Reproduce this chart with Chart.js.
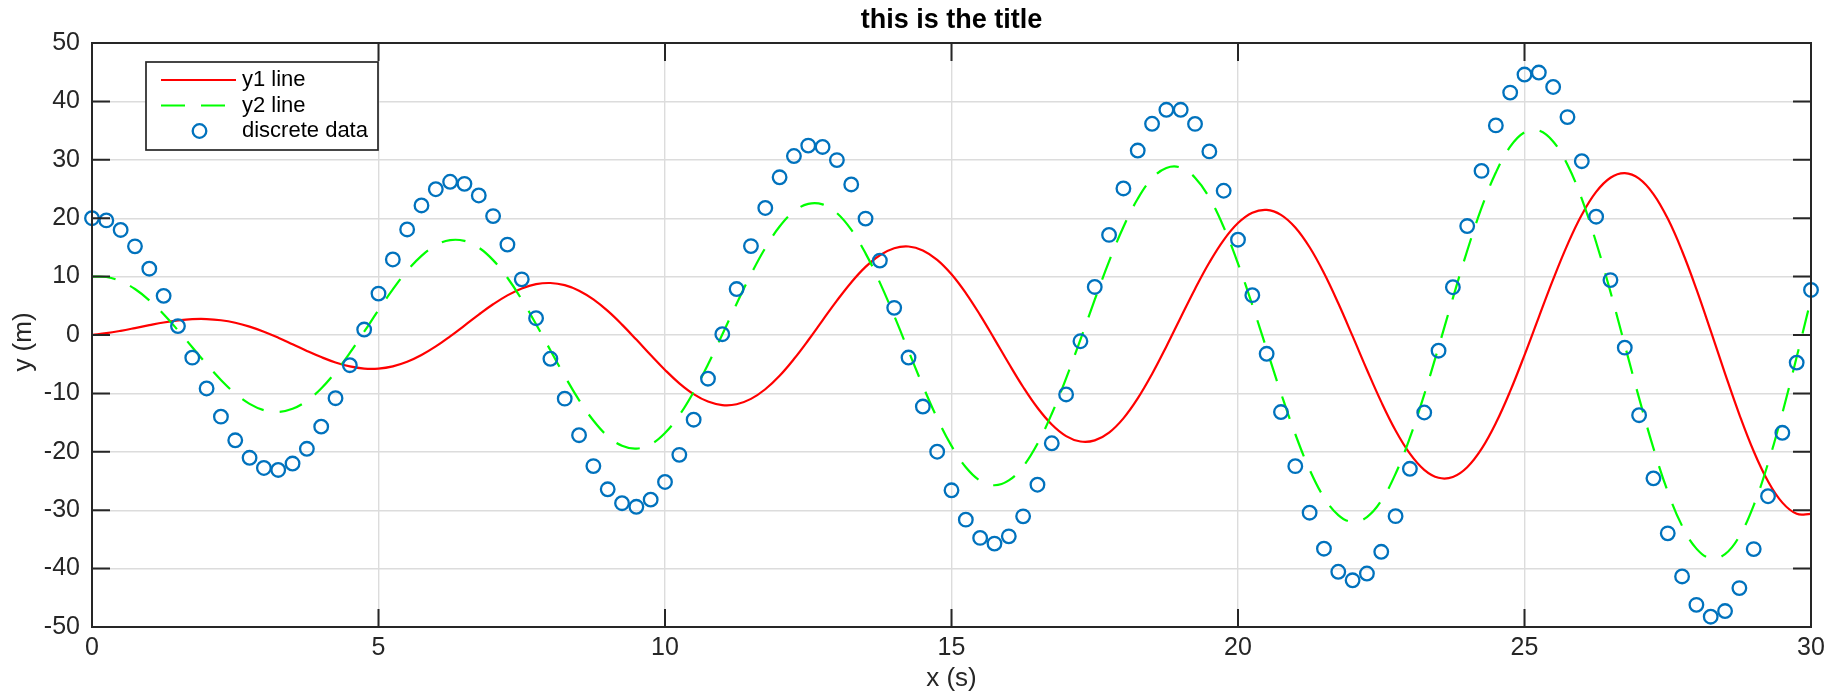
<!DOCTYPE html>
<html>
<head>
<meta charset="utf-8">
<script src="https://cdn.jsdelivr.net/npm/chart.js@4/dist/chart.umd.min.js"></script>
<style>
html,body{margin:0;padding:0;background:#ffffff;overflow:hidden;}
canvas{display:block;}
</style>
</head>
<body>
<canvas id="c" width="1841" height="697"></canvas>
<script>
// ---- data ----
const xValues = [
  0,0.25,0.5,0.75,1,1.25,1.5,1.75,2,2.25,2.5,2.75,3,3.25,3.5,3.75,4,4.25,4.5,4.75,
  5,5.25,5.5,5.75,6,6.25,6.5,6.75,7,7.25,7.5,7.75,8,8.25,8.5,8.75,9,9.25,9.5,9.75,
  10,10.25,10.5,10.75,11,11.25,11.5,11.75,12,12.25,12.5,12.75,13,13.25,13.5,13.75,14,14.25,14.5,14.75,
  15,15.25,15.5,15.75,16,16.25,16.5,16.75,17,17.25,17.5,17.75,18,18.25,18.5,18.75,19,19.25,19.5,19.75,
  20,20.25,20.5,20.75,21,21.25,21.5,21.75,22,22.25,22.5,22.75,23,23.25,23.5,23.75,24,24.25,24.5,24.75,
  25,25.25,25.5,25.75,26,26.25,26.5,26.75,27,27.25,27.5,27.75,28,28.25,28.5,28.75,29,29.25,29.5,29.75,30
];
const y1Line = [
  0,0.31,0.72,1.19,1.68,2.14,2.49,2.71,2.73,2.53,2.10,1.43,0.56,-0.46,-1.58,-2.72,-3.78,-4.70,-5.38,-5.75,
  -5.75,-5.37,-4.59,-3.43,-1.96,-0.24,1.61,3.49,5.26,6.79,7.97,8.70,8.90,8.53,7.59,6.09,4.12,1.78,-0.79,-3.44,
  -5.98,-8.27,-10.12,-11.40,-12.00,-11.86,-10.94,-9.29,-6.98,-4.12,-0.90,2.51,5.88,9.00,11.66,13.66,14.86,15.15,14.49,12.88,
  10.41,7.19,3.41,-0.70,-4.89,-8.90,-12.46,-15.33,-17.31,-18.24,-18.05,-16.71,-14.27,-10.86,-6.68,-1.96,3.00,7.89,12.41,16.26,
  19.17,20.94,21.43,20.58,18.41,15.02,10.61,5.43,-0.20,-5.95,-11.45,-16.34,-20.31,-23.08,-24.45,-24.31,-22.64,-19.51,-15.08,-9.62,
  -3.44,3.07,9.52,15.48,20.59,24.50,26.93,27.72,26.78,24.14,19.93,14.39,7.86,0.71,-6.60,-13.62,-19.91,-25.05,-28.70,-30.61,-30.63
];
const y2Line = [
  10,9.93,9.22,7.87,5.94,3.55,0.81,-2.09,-4.99,-7.70,-10.01,-11.79,-12.87,-13.17,-12.64,-11.28,-9.15,-6.36,-3.06,0.56,
  4.26,7.81,10.98,13.56,15.36,16.24,16.11,14.96,12.82,9.80,6.07,1.84,-2.62,-7.04,-11.14,-14.64,-17.31,-18.96,-19.45,-18.72,
  -16.78,-13.74,-9.75,-5.05,0.09,5.35,10.39,14.90,18.57,21.15,22.45,22.37,20.87,18.03,13.98,8.97,3.28,-2.73,-8.70,-14.24,
  -18.99,-22.65,-24.95,-25.73,-24.90,-22.49,-18.61,-13.49,-7.43,-0.78,6.04,12.60,18.49,23.32,26.78,28.61,28.67,26.94,23.48,18.48,
  12.24,5.13,-2.43,-9.95,-16.98,-23.05,-27.78,-30.83,-32.00,-31.18,-28.38,-23.76,-17.58,-10.21,-2.07,6.31,14.42,21.75,27.82,32.24,
  34.69,35.01,33.13,29.15,23.29,15.88,7.38,-1.71,-10.81,-19.36,-26.81,-32.68,-36.58,-38.24,-37.52,-34.45,-29.17,-22.00,-13.36,-3.78,6.17
];
const discreteData = [
  20,19.62,17.99,15.18,11.35,6.70,1.52,-3.88,-9.16,-13.98,-18.03,-21.03,-22.77,-23.11,-22.01,-19.49,-15.69,-10.82,-5.17,0.93,
  7.09,12.93,18.07,22.18,24.96,26.24,25.88,23.89,20.36,15.48,9.53,2.88,-4.07,-10.90,-17.16,-22.45,-26.42,-28.80,-29.42,-28.19,
  -25.17,-20.52,-14.50,-7.48,0.14,7.87,15.22,21.75,27.00,30.65,32.43,32.20,29.95,25.78,19.93,12.74,4.65,-3.86,-12.25,-19.99,
  -26.59,-31.62,-34.74,-35.72,-34.48,-31.05,-25.64,-18.54,-10.18,-1.07,8.23,17.14,25.09,31.58,36.17,38.56,38.56,36.15,31.44,24.70,
  16.32,6.82,-3.22,-13.19,-22.46,-30.43,-36.59,-40.54,-42.00,-40.84,-37.12,-31.02,-22.91,-13.27,-2.69,8.18,18.66,28.10,35.89,41.51,
  44.60,44.94,42.47,37.31,29.76,20.26,9.40,-2.17,-13.73,-24.55,-33.96,-41.34,-46.21,-48.24,-47.27,-43.34,-36.66,-27.61,-16.75,-4.73,7.71
];
const xTicks = [0,5,10,15,20,25,30];
const yTicks = [-50,-40,-30,-20,-10,0,10,20,30,40,50];
const seriesLabels = ['y1 line','y2 line','discrete data'];
const titleText = 'this is the title';
const xAxisLabel = 'x (s)';
const yAxisLabel = 'y (m)';

// ---- styling ----
const FONT = '"Liberation Sans", Arial, Helvetica, sans-serif';
const AXIS_COLOR = '#262626';
const toPoints = ys => xValues.map((x, i) => ({x: x, y: ys[i]}));

const centerTitle = {
  id: 'centerTitle',
  afterLayout(chart) {
    const t = chart.titleBlock;
    if (t) { t.left = chart.chartArea.left; t.right = chart.chartArea.right; }
  }
};

const boxTicks = {
  id: 'boxTicks',
  afterDatasetsDraw(chart) {
    const {ctx, chartArea: a, scales} = chart;
    const xs = scales.x, ys = scales.y;
    const tl = 18;
    ctx.save();
    ctx.strokeStyle = AXIS_COLOR;
    ctx.lineWidth = 2;
    ctx.beginPath();
    xs.ticks.forEach(t => {
      const px = xs.getPixelForValue(t.value);
      ctx.moveTo(px, a.bottom); ctx.lineTo(px, a.bottom - tl);
      ctx.moveTo(px, a.top); ctx.lineTo(px, a.top + tl);
    });
    ys.ticks.forEach(t => {
      const py = ys.getPixelForValue(t.value);
      ctx.moveTo(a.left, py); ctx.lineTo(a.left + tl, py);
      ctx.moveTo(a.right, py); ctx.lineTo(a.right - tl, py);
    });
    ctx.stroke();
    ctx.strokeRect(a.left, a.top, a.right - a.left, a.bottom - a.top);
    ctx.restore();
  }
};

const boxedLegend = {
  id: 'boxedLegend',
  afterDatasetsDraw(chart) {
    const ctx = chart.ctx;
    const L = 146, T = 62, W = 232, H = 88;
    const rows = [80, 105.5, 131];
    ctx.save();
    ctx.fillStyle = '#ffffff';
    ctx.fillRect(L, T, W, H);
    ctx.strokeStyle = AXIS_COLOR;
    ctx.lineWidth = 1.7;
    ctx.strokeRect(L, T, W, H);
    chart.data.datasets.forEach((ds, i) => {
      const y = rows[i];
      if (ds.showLine === false) {
        ctx.beginPath();
        ctx.setLineDash([]);
        ctx.arc(199.5, y, ds.pointRadius, 0, Math.PI * 2);
        ctx.lineWidth = ds.pointBorderWidth;
        ctx.strokeStyle = ds.pointBorderColor;
        ctx.stroke();
      } else {
        ctx.beginPath();
        ctx.setLineDash(ds.borderDash || []);
        ctx.moveTo(161, y); ctx.lineTo(236, y);
        ctx.lineWidth = ds.borderWidth;
        ctx.strokeStyle = ds.borderColor;
        ctx.stroke();
        ctx.setLineDash([]);
      }
      ctx.fillStyle = '#000000';
      ctx.font = '22px ' + FONT;
      ctx.textAlign = 'left';
      ctx.textBaseline = 'middle';
      ctx.fillText(ds.label, 242, y);
    });
    ctx.restore();
  }
};

// draw the y-axis title slightly below the axis centre, as in the reference
const yTitle = {
  id: 'yTitle',
  afterDraw(chart) {
    const {ctx, chartArea: a} = chart;
    ctx.save();
    ctx.translate(24, (a.top + a.bottom) / 2 + 7);
    ctx.rotate(-Math.PI / 2);
    ctx.fillStyle = AXIS_COLOR;
    ctx.font = '26px ' + FONT;
    ctx.textAlign = 'center';
    ctx.textBaseline = 'middle';
    ctx.fillText(yAxisLabel, 0, 0);
    ctx.restore();
  }
};

new Chart(document.getElementById('c'), {
  type: 'line',
  data: {
    datasets: [
      {
        label: seriesLabels[0], data: toPoints(y1Line),
        borderColor: '#ff0000', borderWidth: 2.2, pointRadius: 0, tension: 0.4, fill: false, order: 3
      },
      {
        label: seriesLabels[1], data: toPoints(y2Line),
        borderColor: '#00ff00', borderWidth: 2.2, borderDash: [24, 16], pointRadius: 0, tension: 0.4, fill: false, order: 2
      },
      {
        label: seriesLabels[2], data: toPoints(discreteData),
        showLine: false, pointStyle: 'circle', pointRadius: 6.8, pointBorderWidth: 2.3,
        pointBorderColor: '#0072bd', pointBackgroundColor: 'rgba(0,0,0,0)', borderColor: '#0072bd',
        clip: false, order: 1
      }
    ]
  },
  options: {
    responsive: false,
    animation: false,
    devicePixelRatio: 1,
    layout: {padding: {left: 0, right: 30, top: 0, bottom: 0}},
    plugins: {
      legend: {display: false},
      tooltip: {enabled: false},
      title: {
        display: true, text: titleText, color: '#000000',
        font: {family: FONT, size: 27, weight: 'bold'},
        padding: {top: 4.2, bottom: 6.4}
      }
    },
    scales: {
      x: {
        type: 'linear', min: 0, max: 30,
        afterBuildTicks: s => { s.ticks = xTicks.map(v => ({value: v})); },
        afterFit: s => { s.height = 70; },
        grid: {color: '#dcdcdc', lineWidth: 1.4, drawTicks: false},
        border: {display: false},
        ticks: {color: AXIS_COLOR, font: {family: FONT, size: 25}, padding: 6, maxRotation: 0, autoSkip: false,
                callback: v => String(v)},
        title: {display: true, text: xAxisLabel, color: AXIS_COLOR, font: {family: FONT, size: 26},
                padding: {top: 0, bottom: 2.4}}
      },
      y: {
        type: 'linear', min: -50, max: 50,
        afterBuildTicks: s => { s.ticks = yTicks.map(v => ({value: v})); },
        afterFit: s => { s.width = 92; },
        grid: {color: '#dcdcdc', lineWidth: 1.4, drawTicks: false},
        border: {display: false},
        ticks: {color: AXIS_COLOR, font: {family: FONT, size: 25}, padding: 12, autoSkip: false,
                callback: v => String(v)},
        title: {display: false, text: yAxisLabel}
      }
    }
  },
  plugins: [centerTitle, boxTicks, boxedLegend, yTitle]
});
</script>
</body>
</html>
